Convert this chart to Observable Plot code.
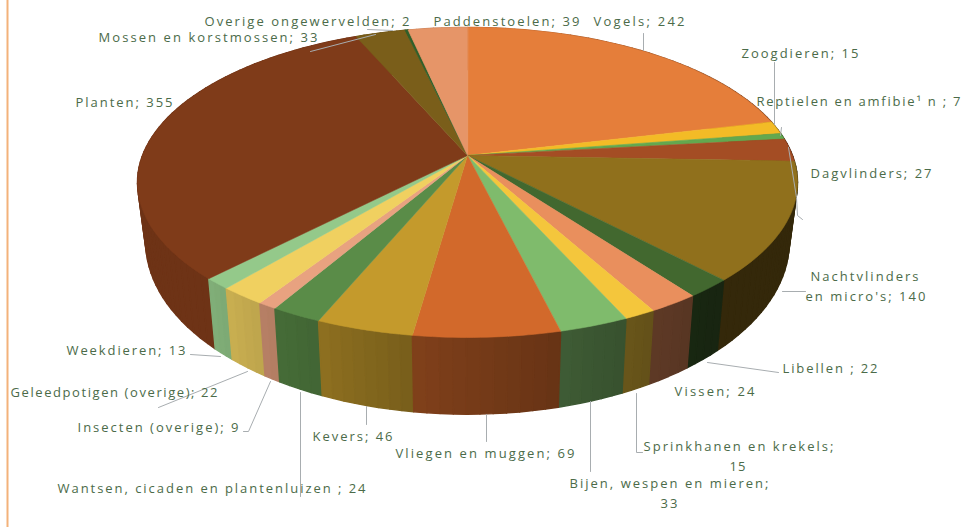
<!DOCTYPE html>
<html>
<head>
<meta charset="utf-8">
<script src="https://cdn.jsdelivr.net/npm/d3@7"></script>
<script src="https://cdn.jsdelivr.net/npm/@observablehq/plot@0.6"></script>
<style>html,body{margin:0;padding:0;background:#fff}svg{display:block}</style>
</head>
<body>
<div id="chart"></div>
<script>
// ---- data: read clockwise from 12 o'clock
const categories = ["Vogels","Zoogdieren","Reptielen en amfibie¹ n","Dagvlinders","Nachtvlinders en micro's","Libellen","Vissen","Sprinkhanen en krekels","Bijen, wespen en mieren","Vliegen en muggen","Kevers","Wantsen, cicaden en plantenluizen","Insecten (overige)","Geleedpotigen (overige)","Weekdieren","Planten","Mossen en korstmossen","Overige ongewervelden","Paddenstoelen"];
const values = [242,15,7,27,140,22,24,15,33,69,46,24,9,22,13,355,33,2,39];
const colors = ["#E57E3A","#F3BB26","#63A84F","#A44D24","#90701C","#42682F","#E98F5D","#F4C63C","#7FBB6C","#D2692B","#C49A2C","#5A8C48","#E8A280","#F0D060","#94C98A","#7F3B19","#7A5E1A","#2F5F2A","#E69568"];

// ---- label layout (separate from data)
const labelLines = ["Overige ongewervelden; 2","Mossen en korstmossen; 33","Paddenstoelen; 39","Vogels; 242","Zoogdieren; 15","Reptielen en amfibie¹ n ; 7","Dagvlinders; 27","Planten; 355","Nachtvlinders","en micro's; 140","Libellen ; 22","Vissen; 24","Sprinkhanen en krekels;","15","Bijen, wespen en mieren;","33","Vliegen en muggen; 69","Kevers; 46","Wantsen, cicaden en plantenluizen ; 24","Insecten (overige); 9","Geleedpotigen (overige); 22","Weekdieren; 13"];
const labelLeft  = [204,98,433,593,741,756,810,75,810,805,782,674,643,729,569,660,395,312,57,77,10,66];
const labelRight = [409,317,579,684,858,960,931,172,918,925,877,754,833,745,768,677,574,392,365,238,217,185];
const labelMid   = [21,37.5,21,21,53,101,173,102,276,296,368,391,446,466,483,503,453,436,488,427,392,350];
const leaders = [
  [[643,33],[643,50]],
  [[774,62],[774,124]],
  [[781,127],[780,135]],
  [[788,147],[796,197],[797,215],[802,219]],
  [[310,51],[375,34]],
  [[367,29],[392,30]],
  [[782,291],[805,291]],
  [[707,362],[778,372]],
  [[636,393],[636,452],[642,452]],
  [[590,401],[590,471]],
  [[486,414],[486,441]],
  [[366,406],[366,424]],
  [[300,392],[300,496]],
  [[270,381],[248,431],[243,431]],
  [[247,371],[158,407]],
  [[190,354],[220,356]]
];

// ---- perspective of the pie
const cx = 467, cy = 155, k = 0.174, rx = 325, ry = 150.3;
const project = deg => {
  const t = deg * Math.PI / 180, d = 1 + k * Math.cos(t);
  return [cx + rx * Math.sin(t) / d, cy - ry * Math.cos(t) / d];
};
const lower = ([x, y]) => [cx + (x - cx) * 0.975, y * 1.112 + 39];
const wallShade = d3.scaleLinear()
  .domain([0, 92, 140, 150, 166, 188, 202, 210, 220, 224, 360])
  .range([.85, .36, .36, .40, .49, .61, .72, .77, .84, .87, .87]);
const scale = (hex, f) => { const c = d3.rgb(hex); return d3.rgb(c.r * f, c.g * f, c.b * f).formatHex(); };

const total = d3.sum(values);
let acc = 0;
const slices = values.map((v, i) => {
  const a0 = acc / total * 360; acc += v;
  return {i, a0, a1: acc / total * 360};
});

const arcAngles = (a0, a1, step) => {
  const n = Math.max(1, Math.ceil((a1 - a0) / step));
  return d3.range(n + 1).map(j => a0 + (a1 - a0) * j / n);
};

const topRows = [], wallRows = [];
for (const s of slices) {
  const key = "t" + s.i;
  topRows.push({key, p: [cx, cy], color: colors[s.i]});
  for (const a of arcAngles(s.a0, s.a1, 1)) topRows.push({key, p: project(a), color: colors[s.i]});
  const arc = arcAngles(s.a0, s.a1, 2);
  for (let j = 0; j < arc.length - 1; ++j) {
    const m = (arc[j] + arc[j + 1]) / 2, p0 = project(arc[j]), p1 = project(arc[j + 1]);
    const color = scale(colors[s.i], wallShade(m));
    const wk = "w" + s.i + "-" + j;
    const order = project(m)[1];
    for (const p of [p0, p1, lower(p1), lower(p0)]) wallRows.push({key: wk, p, color, order});
  }
}
wallRows.sort((a, b) => a.order - b.order);

const labelRows = labelLines.map((text, i) => ({text, x: labelLeft[i], y: labelMid[i], w: labelRight[i] - labelLeft[i]}));
const leaderRows = leaders.flatMap((pts, i) => pts.map(p => ({i, p})));

const polygon = (rows, strokeWidth) => Plot.line(rows, {
  x: d => d.p[0], y: d => d.p[1], z: "key",
  fill: "color", stroke: "color", strokeWidth,
  curve: "linear-closed"
});

const chart = Plot.plot({
  width: 966, height: 527, margin: 0,
  x: {domain: [0, 966], range: [0, 966], axis: null},
  y: {domain: [0, 527], range: [0, 527], axis: null},
  color: {type: "identity"},
  style: {background: "#fff"},
  marks: [
    polygon(wallRows, 1.4),
    polygon(topRows, 0.6),
    Plot.line(leaderRows, {x: d => d.p[0], y: d => d.p[1], z: "i", stroke: "#a8adb0", strokeWidth: 1, curve: "linear"}),
    Plot.text(labelRows, {x: "x", y: "y", text: "text", textAnchor: "start", lineAnchor: "middle",
      fill: "#4b6b49", fontSize: 13, fontFamily: "'Open Sans', sans-serif", fontWeight: 500}),
    Plot.ruleX([7], {stroke: "#F3B27A", strokeWidth: 2})
  ]
});
document.getElementById("chart").appendChild(chart);

// fit each label to its measured width through letter-spacing
const widths = new Map(labelRows.map(d => [d.text, d.w]));
d3.select(chart).selectAll("text").each(function () {
  const w = widths.get(this.textContent);
  if (w == null) return;
  const natural = this.getComputedTextLength();
  const n = this.textContent.length - 1;
  if (n > 0) this.setAttribute("letter-spacing", ((w - natural) / n).toFixed(3));
});
</script>
</body>
</html>
